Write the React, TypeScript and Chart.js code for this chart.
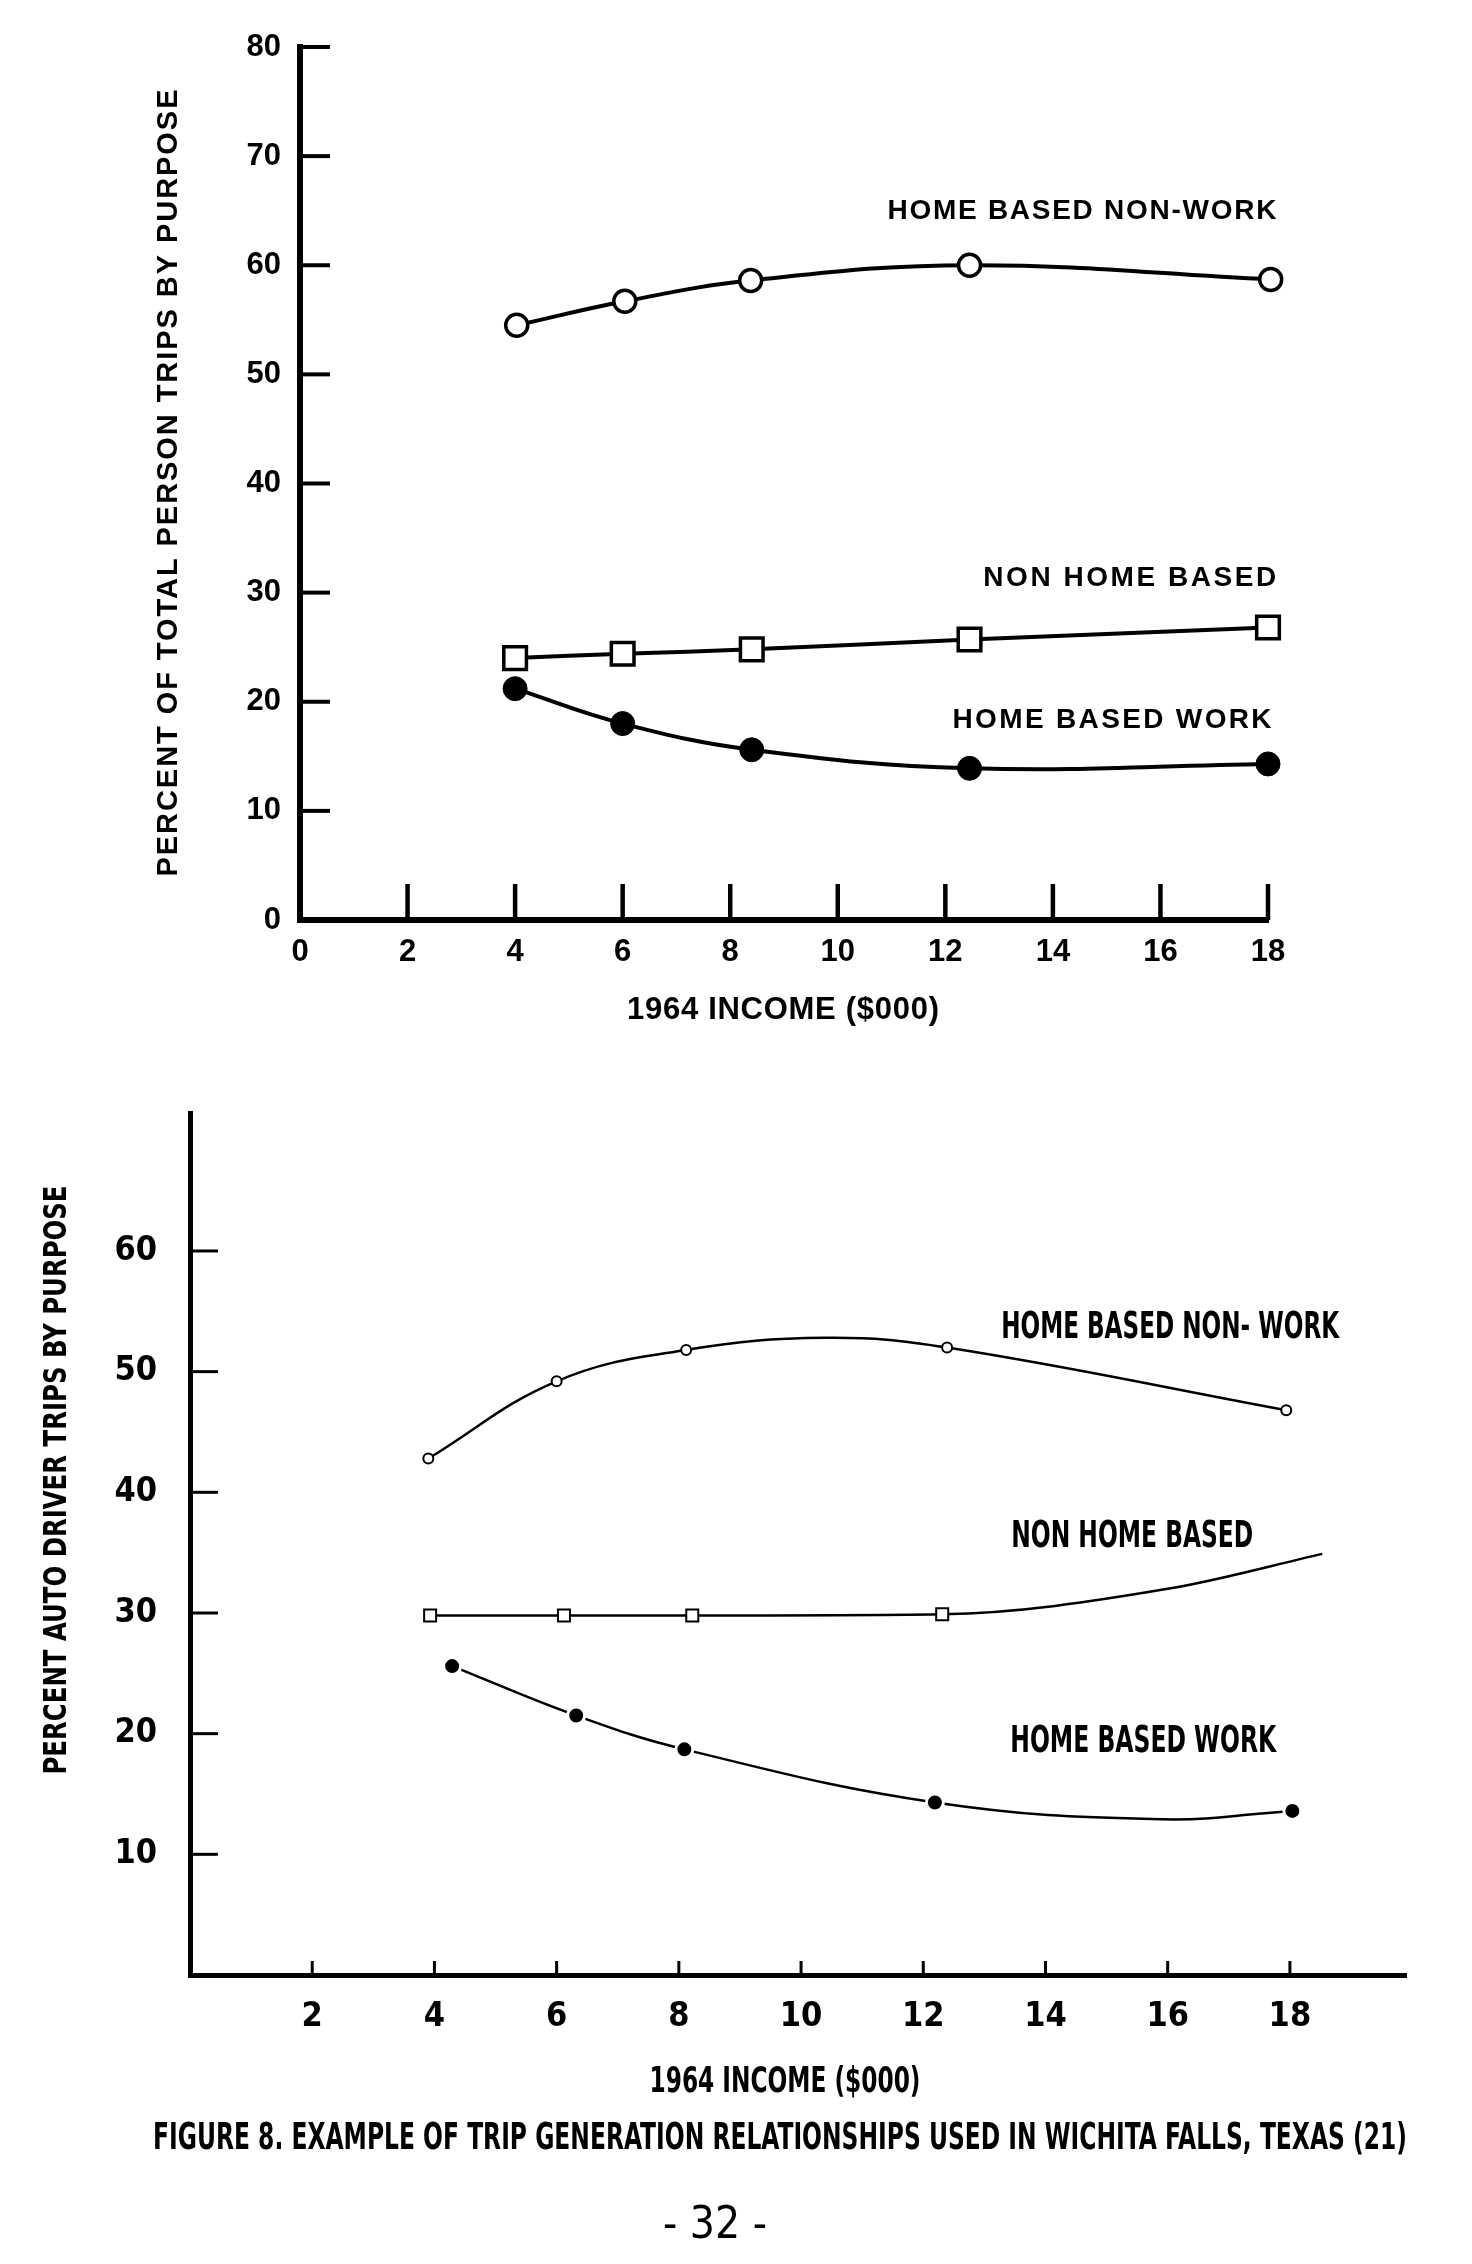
import React, { useEffect, useRef } from "react";
import { Chart, registerables } from "chart.js";

Chart.register(...registerables);

// ---------------- Top panel: percent of total person trips ----------------
const topXTicks = [0, 2, 4, 6, 8, 10, 12, 14, 16, 18];
const topYTicks = [0, 10, 20, 30, 40, 50, 60, 70, 80];
const topInnerXTicks = [2, 4, 6, 8, 10, 12, 14, 16, 18];
const topInnerYTicks = [10, 20, 30, 40, 50, 60, 70, 80];

const topIncomeNonWork = [4.03, 6.04, 8.38, 12.45, 18.05];
const topPctNonWork = [54.5, 56.7, 58.6, 60.0, 58.7];
const topIncomeNonHome = [4.0, 6.0, 8.4, 12.45, 18.0];
const topPctNonHome = [24.0, 24.4, 24.8, 25.7, 26.8];
const topIncomeWork = [4.0, 6.0, 8.4, 12.45, 18.0];
const topPctWork = [21.2, 18.0, 15.6, 13.9, 14.3];

const topSeriesNames = ["HOME BASED NON-WORK", "NON HOME BASED", "HOME BASED WORK"];

// ---------------- Bottom panel: percent auto driver trips ----------------
const botXTicks = [2, 4, 6, 8, 10, 12, 14, 16, 18];
const botYTicks = [10, 20, 30, 40, 50, 60];

const botIncomeNonWork = [3.9, 6.0, 8.12, 10.4, 12.39, 17.94];
const botPctNonWork = [42.8, 49.2, 51.8, 52.8, 52.0, 46.8];
const botMarkNonWork = [true, true, true, false, true, true];

const botIncomeNonHome = [3.93, 6.12, 8.22, 12.31, 16.0, 18.53];
const botPctNonHome = [29.8, 29.8, 29.8, 29.9, 32.0, 34.9];
const botMarkNonHome = [true, true, true, true, false, false];

const botIncomeWork = [4.29, 6.32, 8.09, 12.19, 15.9, 18.04];
const botPctWork = [25.6, 21.5, 18.7, 14.3, 12.9, 13.6];
const botMarkWork = [true, true, true, true, false, true];

const botSeriesNames = ["HOME BASED NON- WORK", "NON HOME BASED", "HOME BASED WORK"];

const xTitle = "1964 INCOME ($000)";
const topYTitle = "PERCENT OF TOTAL PERSON TRIPS BY PURPOSE";
const botYTitle = "PERCENT AUTO DRIVER TRIPS BY PURPOSE";
const caption = "FIGURE 8. EXAMPLE OF TRIP GENERATION RELATIONSHIPS USED IN WICHITA FALLS, TEXAS (21)";
const pageNumber = "- 32 -";

// ---------------- presentation ----------------
const W = 1472;
const TOP_H = 1060;
const BOT_H = 2264 - TOP_H;
const SANS = '"Liberation Sans", Arial, Helvetica, sans-serif';
const NARROW = '"Liberation Sans Narrow", "Arial Narrow", "DejaVu Sans Condensed", sans-serif';

// label anchors (data units of each panel) and target widths in px
const topLabelLayout = [
  { x: 14.54, y: 65.2, w: 389 },
  { x: 15.43, y: 31.5, w: 293 },
  { x: 15.1, y: 18.5, w: 319 },
];
const botLabelLayout = [
  { x: 16.04, y: 53.9, w: 338 },
  { x: 15.42, y: 36.6, w: 242 },
  { x: 15.6, y: 19.6, w: 266 },
];

function drawFitted(
  ctx: CanvasRenderingContext2D,
  text: string,
  cx: number,
  cy: number,
  width: number,
  size: number,
  family: string,
  weight: string,
  mode: "track" | "scale",
  rotate = false
) {
  ctx.save();
  ctx.font = `${weight} ${size}px ${family}`;
  ctx.fillStyle = "#000";
  ctx.textBaseline = "alphabetic";
  ctx.textAlign = "left";
  ctx.translate(cx, cy);
  if (rotate) ctx.rotate(-Math.PI / 2);
  const natural = ctx.measureText(text).width;
  const base = size * 0.36;
  if (mode === "track" && natural < width && text.length > 1) {
    const sp = (width - natural) / (text.length - 1);
    (ctx as any).letterSpacing = `${sp}px`;
    ctx.fillText(text, -width / 2, base);
  } else {
    ctx.scale(width / natural, 1);
    ctx.fillText(text, -natural / 2, base);
  }
  ctx.restore();
}

type Decor = {
  xInner: number[];
  yInner: number[];
  xTickLen: number;
  yTickLen: number;
  xTickWidth: number;
  yTickWidth: number;
  draw: (chart: any) => void;
};

function decorPlugin(d: Decor) {
  return {
    id: "decor",
    afterDraw(chart: any) {
      const { ctx, chartArea } = chart;
      const xs = chart.scales.x;
      const ys = chart.scales.y;
      ctx.save();
      ctx.strokeStyle = "#000";
      ctx.lineCap = "butt";
      ctx.lineWidth = d.xTickWidth;
      d.xInner.forEach((v) => {
        const px = xs.getPixelForValue(v);
        ctx.beginPath();
        ctx.moveTo(px, chartArea.bottom);
        ctx.lineTo(px, chartArea.bottom - d.xTickLen);
        ctx.stroke();
      });
      ctx.lineWidth = d.yTickWidth;
      d.yInner.forEach((v) => {
        const py = ys.getPixelForValue(v);
        ctx.beginPath();
        ctx.moveTo(chartArea.left, py);
        ctx.lineTo(chartArea.left + d.yTickLen, py);
        ctx.stroke();
      });
      ctx.restore();
      d.draw(chart);
    },
  };
}

const pts = (xs: number[], ys: number[]) => xs.map((x, i) => ({ x, y: ys[i] }));

export default function App() {
  const topRef = useRef<HTMLCanvasElement>(null);
  const botRef = useRef<HTMLCanvasElement>(null);

  useEffect(() => {
    if (!topRef.current || !botRef.current) return;

    const topChart = new Chart(topRef.current, {
      type: "line",
      data: {
        datasets: [
          {
            data: pts(topIncomeWork, topPctWork),
            borderColor: "#000",
            borderWidth: 4,
            tension: 0.4,
            pointStyle: "circle",
            pointRadius: 12,
            pointBackgroundColor: "#000",
            pointBorderColor: "#000",
            pointBorderWidth: 1,
            clip: false,
            fill: false,
          },
          {
            data: pts(topIncomeNonHome, topPctNonHome),
            borderColor: "#000",
            borderWidth: 4,
            tension: 0.4,
            pointStyle: "rect",
            pointRadius: 16,
            pointBackgroundColor: "#fff",
            pointBorderColor: "#000",
            pointBorderWidth: 3.5,
            clip: false,
            fill: false,
          },
          {
            data: pts(topIncomeNonWork, topPctNonWork),
            borderColor: "#000",
            borderWidth: 4,
            tension: 0.4,
            pointStyle: "circle",
            pointRadius: 11,
            pointBackgroundColor: "#fff",
            pointBorderColor: "#000",
            pointBorderWidth: 3.5,
            clip: false,
            fill: false,
          },
        ],
      } as any,
      options: {
        animation: false,
        responsive: false,
        devicePixelRatio: 1,
        events: [],
        layout: { padding: { left: 0, top: 47, right: W - 1268, bottom: 0 } },
        plugins: { legend: { display: false }, tooltip: { enabled: false } },
        scales: {
          x: {
            type: "linear",
            min: 0,
            max: 18,
            afterBuildTicks: (s: any) => {
              s.ticks = topXTicks.map((v) => ({ value: v }));
            },
            afterFit: (s: any) => {
              s.height = TOP_H - 920;
            },
            grid: { display: false, drawTicks: false },
            border: { display: true, color: "#000", width: 6 },
            ticks: {
              padding: 14,
              color: "#000",
              autoSkip: false,
              maxRotation: 0,
              minRotation: 0,
              font: { family: SANS, size: 31, weight: "bold" },
            },
          },
          y: {
            type: "linear",
            min: 0,
            max: 80,
            afterBuildTicks: (s: any) => {
              s.ticks = topYTicks.map((v) => ({ value: v }));
            },
            afterFit: (s: any) => {
              s.width = 300;
            },
            grid: { display: false, drawTicks: false },
            border: { display: true, color: "#000", width: 6 },
            ticks: {
              padding: 19,
              color: "#000",
              autoSkip: false,
              font: { family: SANS, size: 31, weight: "bold" },
            },
          },
        },
      } as any,
      plugins: [
        decorPlugin({
          xInner: topInnerXTicks,
          yInner: topInnerYTicks,
          xTickLen: 36,
          yTickLen: 30,
          xTickWidth: 4.5,
          yTickWidth: 4,
          draw: (chart: any) => {
            const ctx = chart.ctx;
            const xs = chart.scales.x;
            const ys = chart.scales.y;
            topSeriesNames.forEach((name, i) => {
              const L = topLabelLayout[i];
              drawFitted(ctx, name, xs.getPixelForValue(L.x), ys.getPixelForValue(L.y), L.w, 28, SANS, "bold", "track");
            });
            drawFitted(ctx, xTitle, 783, 1008, 312, 31, SANS, "bold", "track");
            drawFitted(ctx, topYTitle, 167, 483, 787, 29, SANS, "bold", "track", true);
          },
        }),
      ],
    });

    const mk = (flags: boolean[], r: number) => flags.map((f) => (f ? r : 0));

    const botChart = new Chart(botRef.current, {
      type: "line",
      data: {
        datasets: [
          {
            data: pts(botIncomeWork, botPctWork),
            borderColor: "#000",
            borderWidth: 2.5,
            tension: 0.4,
            pointStyle: "circle",
            pointRadius: mk(botMarkWork, 8.5),
            pointBackgroundColor: "#000",
            pointBorderColor: "#fff",
            pointBorderWidth: 3,
            clip: false,
            fill: false,
          },
          {
            data: pts(botIncomeNonHome, botPctNonHome),
            borderColor: "#000",
            borderWidth: 2.5,
            cubicInterpolationMode: "monotone",
            pointStyle: "rect",
            pointRadius: mk(botMarkNonHome, 8.5),
            pointBackgroundColor: "#fff",
            pointBorderColor: "#000",
            pointBorderWidth: 2,
            clip: false,
            fill: false,
          },
          {
            data: pts(botIncomeNonWork, botPctNonWork),
            borderColor: "#000",
            borderWidth: 2.5,
            tension: 0.4,
            pointStyle: "circle",
            pointRadius: mk(botMarkNonWork, 5),
            pointBackgroundColor: "#fff",
            pointBorderColor: "#000",
            pointBorderWidth: 2,
            clip: false,
            fill: false,
          },
        ],
      } as any,
      options: {
        animation: false,
        responsive: false,
        devicePixelRatio: 1,
        events: [],
        layout: { padding: { left: 0, top: 24, right: W - 1406, bottom: 0 } },
        plugins: { legend: { display: false }, tooltip: { enabled: false } },
        scales: {
          x: {
            type: "linear",
            min: 0,
            max: 19.9,
            afterBuildTicks: (s: any) => {
              s.ticks = botXTicks.map((v) => ({ value: v }));
            },
            afterFit: (s: any) => {
              s.height = BOT_H - (1975 - TOP_H);
            },
            grid: { display: false, drawTicks: false },
            border: { display: true, color: "#000", width: 5 },
            ticks: {
              padding: 22,
              color: "#000",
              autoSkip: false,
              maxRotation: 0,
              minRotation: 0,
              font: { family: NARROW, size: 34, weight: "bold" },
            },
          },
          y: {
            type: "linear",
            min: 0,
            max: 71.4,
            afterBuildTicks: (s: any) => {
              s.ticks = botYTicks.map((v) => ({ value: v }));
            },
            afterFit: (s: any) => {
              s.width = 190;
            },
            grid: { display: false, drawTicks: false },
            border: { display: true, color: "#000", width: 5 },
            ticks: {
              padding: 33,
              color: "#000",
              autoSkip: false,
              font: { family: NARROW, size: 34, weight: "bold" },
            },
          },
        },
      } as any,
      plugins: [
        decorPlugin({
          xInner: botXTicks,
          yInner: botYTicks,
          xTickLen: 14,
          yTickLen: 28,
          xTickWidth: 3,
          yTickWidth: 3,
          draw: (chart: any) => {
            const ctx = chart.ctx;
            const xs = chart.scales.x;
            const ys = chart.scales.y;
            botSeriesNames.forEach((name, i) => {
              const L = botLabelLayout[i];
              drawFitted(ctx, name, xs.getPixelForValue(L.x), ys.getPixelForValue(L.y), L.w, 37, NARROW, "bold", "scale");
            });
            drawFitted(ctx, xTitle, 785, 2079 - TOP_H, 271, 35, NARROW, "bold", "scale");
            drawFitted(ctx, botYTitle, 54, 1480 - TOP_H, 589, 32, NARROW, "bold", "scale", true);
            drawFitted(ctx, caption, 780, 2135 - TOP_H, 1254, 38, NARROW, "bold", "scale");
            drawFitted(ctx, pageNumber, 715, 2222 - TOP_H, 104, 44, NARROW, "normal", "track");
          },
        }),
      ],
    });

    return () => {
      topChart.destroy();
      botChart.destroy();
    };
  }, []);

  return (
    <div style={{ position: "absolute", left: 0, top: 0, width: W, height: 2264, background: "#fff" }}>
      <canvas
        ref={topRef}
        width={W}
        height={TOP_H}
        style={{ position: "absolute", left: 0, top: 0, width: W, height: TOP_H }}
      />
      <canvas
        ref={botRef}
        width={W}
        height={BOT_H}
        style={{ position: "absolute", left: 0, top: TOP_H, width: W, height: BOT_H }}
      />
    </div>
  );
}
